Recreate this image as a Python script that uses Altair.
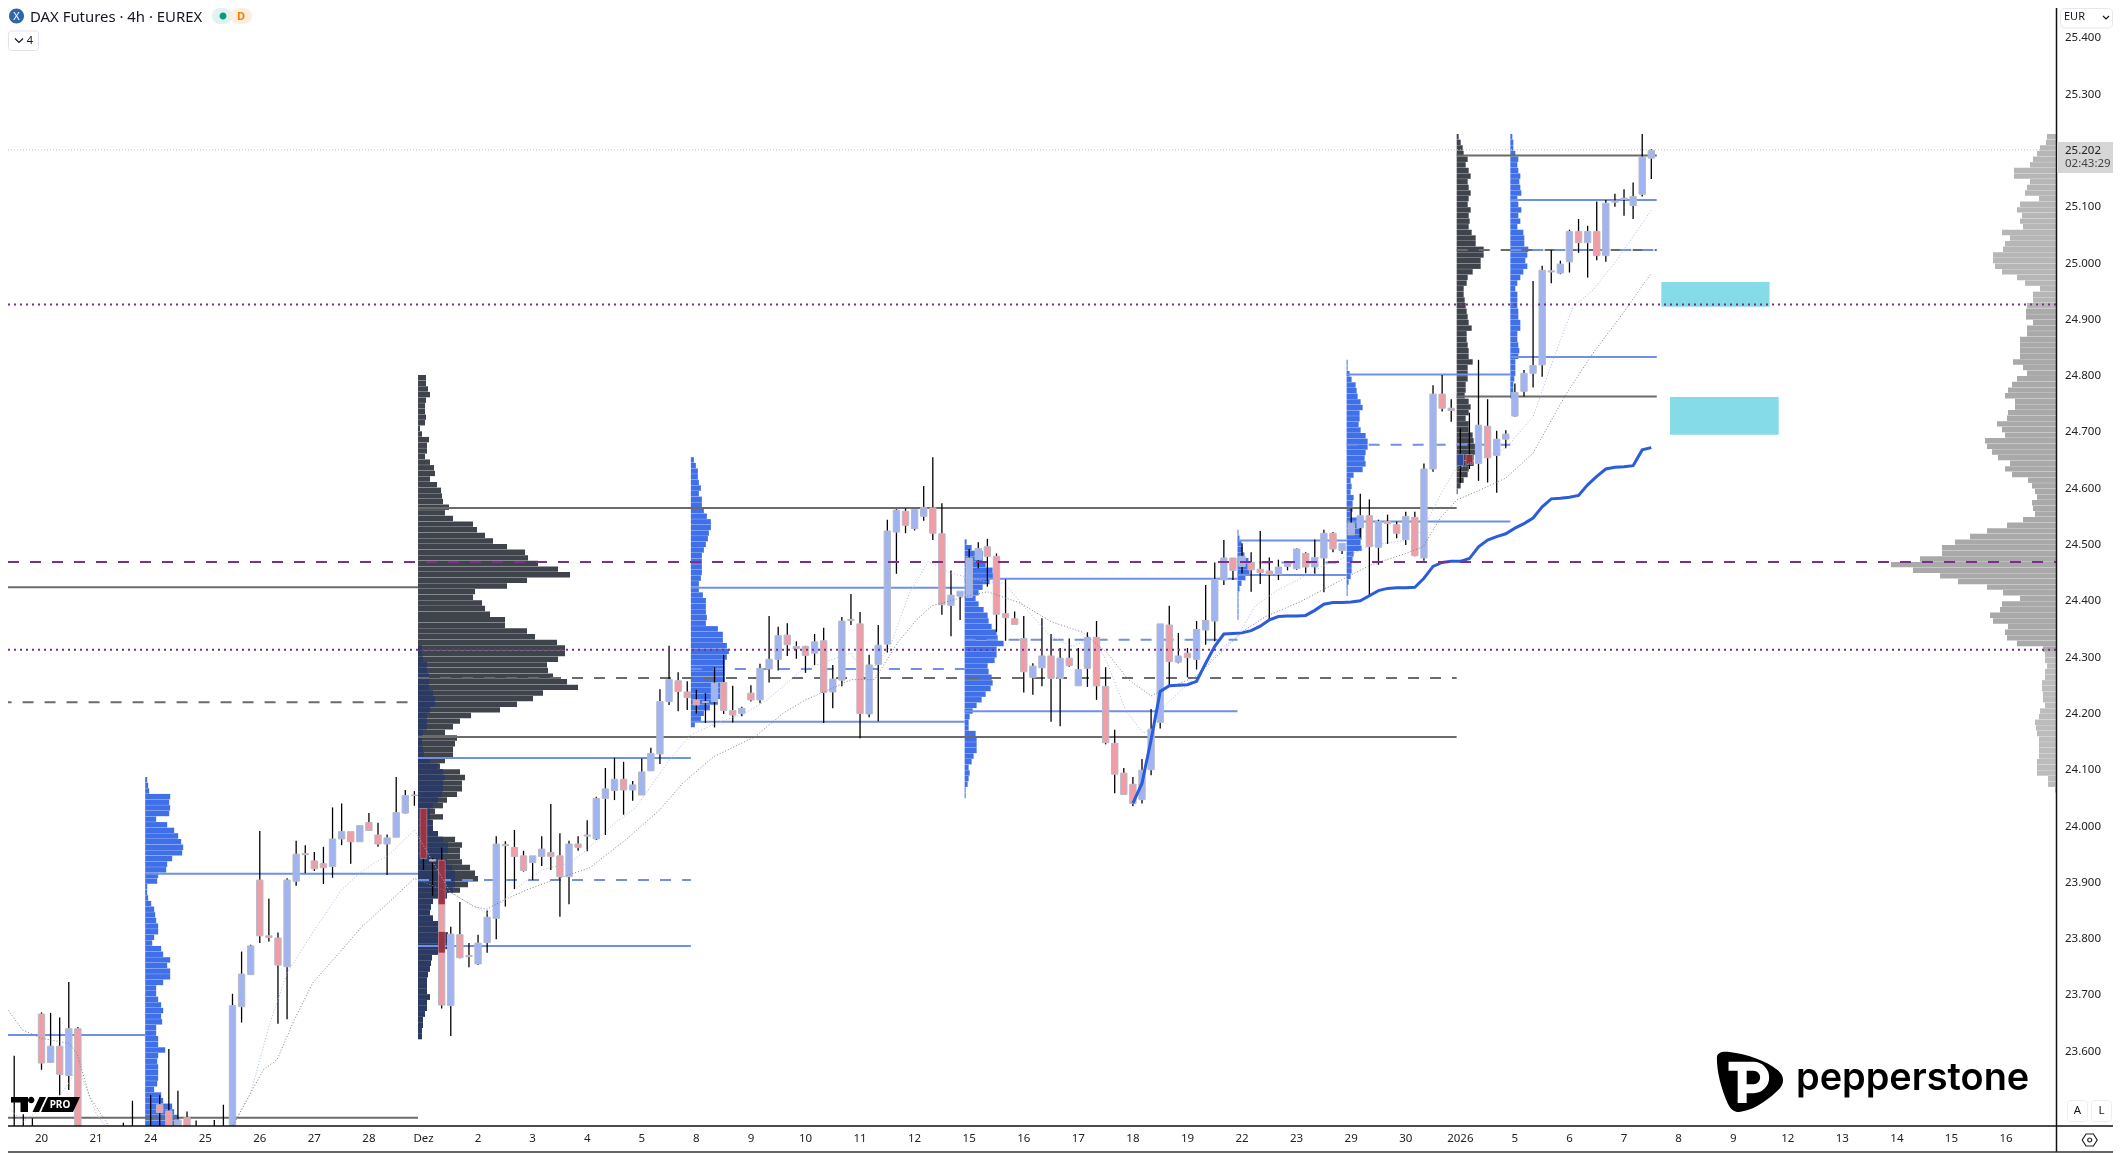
import altair as alt
import pandas as pd

# ---- candles: bar index, one day = six bars ----
first_bar = -4
opens = [23430,23430,23430,23430,23667,23581,23610,23558,23641,23430,23430,23430,23430,23430,23430,23430,23430,23506,23495,23440,23483,23430,23430,23430,23430,23440,
 23680,23737,23905,23806,23802,23751,23903,23952,23939,23934,23929,23978,23991,23973,24007,23985,23969,23981,24024,24055,24032,23941,23940,23682,23808,23771,23756,23794,23837,23968,23963,23948,23936,23947,23954,23948,23911,23969,23985,23978,24050,24064,24084,24065,24056,24099,
 24129,24222,24259,24239,24225,24222,24222,24256,24206,24201,24237,24225,24280,24297,24340,24320,24320,24308,24330,24239,24260,24368,24360,24200,24288,24324,24523,24560,24529,24551,24566,24520,24393,24409,24407,24474,24497,24480,24378,24369,24334,24265,24282,24303,24263,24299,24250,24281,24336,24249,24148,24095,24075,24048,24101,24185,24358,24292,24308,24297,24349,24365,24438,24477,24462,24469,24457,24454,24448,24462,24458,24485,24461,24477,24521,24490,24518,24531,24552,24496,24542,24536,24510,24549,24477,
 24635,24768,24743,24642,24660,24645,24711,24659,24688,24729,24773,24805,24820,24987,24983,25003,25057,25037,25057,25014,25109,25114,25103,25123,25187]
closes = [23420,23420,23420,23420,23580,23610,23560,23641,23440,23420,23420,23420,23420,23420,23420,23420,23420,23492,23440,23479,23440,23420,23420,23420,23420,23682,
 23738,23788,23806,23803,23754,23905,23951,23950,23925,23927,23978,23991,23973,24002,23993,23969,23980,24025,24055,24056,23944,23939,23683,23809,23767,23769,23793,23839,23969,23966,23947,23922,23948,23960,23947,23911,23969,23963,23983,24050,24067,24084,24065,24074,24097,24130,
 24222,24261,24240,24229,24216,24220,24255,24206,24198,24210,24225,24281,24297,24339,24323,24316,24304,24328,24238,24262,24365,24366,24201,24287,24322,24525,24562,24535,24563,24567,24521,24394,24411,24418,24477,24494,24480,24377,24371,24359,24275,24285,24303,24263,24299,24286,24279,24336,24250,24149,24093,24057,24041,24100,24173,24360,24293,24303,24300,24350,24366,24439,24477,24455,24480,24456,24451,24448,24461,24469,24493,24461,24478,24521,24493,24503,24539,24552,24497,24542,24538,24521,24551,24481,24635,
 24768,24743,24739,24661,24644,24713,24655,24688,24697,24771,24805,24819,24988,24985,24999,25057,25037,25057,25014,25107,25111,25116,25119,25189,25201]
highs = [23482,23593,23489,23482,23670,23669,23661,23724,23644,23450,23450,23450,23450,23474,23513,23450,23523,23523,23605,23531,23494,23478,23450,23479,23506,23703,
 23778,23790,23992,23872,23812,23908,23975,23967,23955,23964,24034,24041,23991,24002,24024,24007,23986,24088,24065,24063,24032,23944,23963,23822,23866,23793,23808,23851,23983,23974,23994,23957,23948,23983,24040,23988,23975,23983,24011,24053,24104,24122,24115,24081,24121,24140,
 24244,24321,24274,24258,24243,24237,24283,24305,24250,24213,24251,24289,24374,24355,24361,24329,24321,24342,24353,24287,24372,24413,24381,24305,24358,24545,24564,24565,24563,24605,24656,24574,24455,24418,24493,24505,24511,24485,24439,24382,24374,24290,24370,24342,24317,24334,24317,24345,24365,24283,24172,24104,24088,24120,24209,24360,24392,24344,24317,24365,24429,24469,24509,24477,24503,24487,24525,24478,24474,24471,24494,24487,24510,24527,24523,24503,24565,24591,24581,24545,24554,24542,24559,24559,24645,
 24784,24802,24759,24707,24735,24829,24759,24703,24704,24787,24811,24969,24996,25024,25005,25060,25079,25067,25110,25113,25124,25132,25144,25230,25203]
lows = [23400,23400,23400,23400,23568,23580,23523,23532,23400,23400,23400,23400,23400,23400,23400,23400,23400,23400,23400,23400,23400,23400,23400,23400,23400,23400,
 23652,23737,23793,23796,23650,23658,23895,23917,23921,23898,23909,23967,23934,23973,23993,23964,23914,23981,24023,24037,23923,23877,23677,23628,23766,23750,23754,23776,23800,23858,23889,23920,23905,23930,23923,23840,23862,23957,23956,23976,23985,24047,24021,24046,24056,24099,
 24111,24216,24205,24207,24201,24184,24176,24200,24185,24196,24222,24219,24256,24277,24303,24298,24273,24287,24184,24210,24249,24358,24157,24194,24187,24309,24449,24521,24526,24543,24509,24376,24338,24367,24407,24459,24426,24346,24330,24359,24238,24234,24249,24186,24178,24284,24250,24248,24225,24146,24059,24057,24036,24041,24091,24174,24249,24290,24265,24279,24323,24329,24429,24438,24450,24417,24431,24368,24438,24455,24456,24450,24449,24416,24487,24484,24518,24514,24408,24465,24502,24512,24500,24480,24472,
 24630,24737,24719,24610,24635,24614,24611,24593,24672,24728,24764,24780,24799,24965,24981,24984,25019,24975,25006,25003,25101,25085,25079,25119,25150]

# ---- moving averages and anchored line: (bar, price) ----
fast_bars = [-4,-2,2,3,4,5,6,7,10,19,21,23,25,27,30,33,35,36.5,38,41,45,49,50,52,55,58,60,63,65.3,69.3,71.4,74.3,77.3,79.8,83.6,85.7,89,90.7,93.3,95.4,97.5,100,101.5,103.7,105.9,108,111,113.4,115.7,117.2,119.2,121.1,122.6,123.4,126.9,130,131.5,133.4,135.9,138.5,140.8,143.5,145.8,147.7,150.4,151.9,153.9,155.4,157.4,161,164,166.2,168.4,170.6,173.2,177]
fast_vals = [23506,23476,23523,23544,23574,23532,23491,23468,23400,23400,23468,23526,23645,23740,23816,23888,23917,23935,23947,23994,23882,23846,23855,23888,23923,23935,23959,24006,24033,24124,24163,24184,24201,24225,24278,24290,24308,24266,24320,24414,24471,24450,24444,24435,24432,24391,24337,24320,24337,24290,24207,24166,24178,24213,24266,24320,24337,24391,24420,24441,24462,24479,24497,24503,24509,24527,24592,24633,24648,24672,24728,24829,24923,24953,25006,25095]
slow_bars = [-4.6,-2.1,0,2,3,3.9,5.3,7.4,10,19,21,24.4,25.9,27.8,29.8,32.7,35.2,37.7,41,45.5,47.5,48.9,50.9,53.4,56.8,60.2,64.2,68,70.5,73.9,78.5,81.5,84,87,89,91.6,94.1,96.2,97.9,101.7,104,107.6,111,114.5,117.2,119.5,122,123.8,126.9,129.6,132,134.6,138.5,140.8,144,146.2,150,151.9,153.9,155.6,158.2,161,164,164.8,167.7,170.6,173.9,177]
slow_vals = [23695,23639,23624,23618,23615,23597,23520,23468,23400,23400,23468,23568,23586,23657,23722,23775,23822,23858,23908,23879,23858,23853,23870,23888,23908,23926,23976,24030,24077,24124,24160,24201,24225,24246,24261,24261,24326,24367,24392,24409,24417,24397,24364,24345,24308,24261,24232,24246,24266,24308,24346,24373,24400,24420,24447,24465,24485,24497,24550,24580,24598,24619,24663,24687,24770,24841,24912,24983]
anchored_first = 120
anchored_vals = [24041,24077,24154,24240,24250,24251,24252,24258,24290,24320,24342,24343,24344,24348,24356,24367,24373,24374,24374,24375,24384,24395,24398,24398,24399,24401,24410,24419,24423,24424,24424,24425,24441,24462,24469,24471,24471,24476,24497,24509,24515,24520,24530,24538,24548,24568,24582,24583,24585,24588,24607,24622,24635,24638,24639,24641,24669,24673]

# ---- volume profiles: first row price, start bar, row volumes ----
dark_top, dark_start = 24802, 41.4
dark_vol = [8,8,10,12,8,7,7,8,7,2,4,11,9,9,7,12,16,17,12,19,23,24,25,31,27,35,55,59,67,75,89,107,110,120,140,152,109,89,57,55,64,67,72,87,87,109,117,139,147,147,140,129,130,135,149,160,125,115,99,82,
 53,42,35,27,39,37,35,35,27,22,42,47,44,44,39,29,25,17,25,15,15,20,37,44,42,42,44,52,57,60,50,42,29,15,13,12,15,20,25,30,34,30,20,14,13,12,10,9,9,9,12,9,9,7,5,5,4,4]
navy_top = 24322
navy_vol = [4,4,5,9,9,11,11,11,15,17,17,12,9,9,9,5,4,4,5,6,12,20,25,27,25,25,24,20,15,12,12,14,15,20,25,30,30,25,29,34,37,37,37,35,29,15,13,12,15,20,25,30,34,30,20,14,13,12,10,9,9,9,12,9,9,7,5,5,4,4]
prof_a_top, prof_a_start = 24088, 11.4
prof_a_vol = [2,3,4,25,24,25,24,11,22,29,33,36,38,37,27,22,21,13,12,2,2,3,6,9,10,11,13,13,9,7,16,18,25,22,25,25,18,11,11,13,16,18,16,17,11,11,13,13,20,13,12,13,13,13,12,9,16,18,27,29,33,36,38,40]
prof_b_top, prof_b_start = 24656, 71.4
prof_b_vol = [3,5,7,7,8,10,8,11,11,13,16,20,20,18,17,15,13,11,11,11,11,10,8,8,12,15,15,15,16,15,27,32,32,36,38,36,34,34,34,34,35,32,30,27,19,13,10,4]
prof_c_top, prof_c_start = 24510, 101.5
prof_c_vol = [2,7,18,18,21,28,31,25,18,14,11,14,19,23,24,27,32,33,39,32,32,30,23,24,27,28,26,21,17,12,8,5,4,4,11,12,12,12,9,7,4,5,4,3,1,1]
prof_d_top, prof_d_start = 24527, 131.5
prof_d_vol = [1,2,4,5,7,11,15,12,8,4,2,1,1,1,1,1]
prof_e_top, prof_e_start = 24829, 143.5
prof_e_vol = [1,1,3,5,9,10,11,14,16,13,13,12,14,19,21,21,19,18,19,16,7,4,5,4,7,6,6,4,14,16,15,15,14,15,7,6,5,5,4,2,1,1]
prof_f_top, prof_f_start = 25230, 155.6
prof_f_vol = [2,4,6,7,11,9,12,14,11,12,14,12,11,14,12,13,12,15,19,19,27,27,24,24,16,11,10,7,7,8,9,10,11,12,15,10,10,11,12,12,16,11,11,11,9,9,8,12,14,12,9,12,12,16,17,20,19,17,17,12,11,7,4,1]
prof_g_top, prof_g_start = 25230, 161.5
prof_g_vol = [2,3,3,5,8,7,8,10,9,10,11,7,8,11,8,10,7,13,14,14,18,17,15,17,13,10,7,5,7,7,7,8,8,10,10,7,7,8,9,8,5,5,5,4,3,3,2]
side_top = 25230
side_vol = [9,10,16,19,23,26,42,42,26,29,31,17,36,39,34,36,33,54,46,51,53,63,63,61,54,39,31,16,23,23,29,30,30,23,29,29,36,36,36,36,43,33,29,39,44,48,51,41,41,48,49,59,54,51,71,69,64,58,46,51,
 44,28,24,21,19,24,23,21,33,49,69,86,101,114,114,136,165,143,116,98,69,53,36,54,56,66,63,48,51,49,39,13,11,11,9,11,11,14,14,13,13,11,16,17,21,20,19,17,17,17,17,19,19,19,8,8,1]

# ---- levels: start bar, end bar, price ----
dark_solid = [(-4.5,41.4,24425),(-4.5,41.4,23483),(41.4,155.6,24566),(41.4,155.6,24159),(155.6,177.6,25192),(155.6,177.6,24764)]
dark_dashed = [(-4.5,41.4,24221),(41.4,155.6,24264),(155.6,177.6,25024)]
blue_solid = [(-4.5,11.4,23630),(11.4,41.4,23916),(41.4,71.4,24122),(41.4,71.4,23788),(71.4,101.5,24424),(71.4,101.5,24186),(101.5,131.5,24440),(101.5,131.5,24205),(131.5,143.5,24508),(131.5,143.5,24447),(143.5,161.5,24803),(143.5,161.5,24542),(161.5,177.6,25113),(161.5,177.6,24834)]
blue_dashed = [(41.4,71.4,23905),(71.4,101.5,24280),(101.5,131.5,24332),(131.5,143.5,24469),(143.5,161.5,24678),(161.5,177.6,25024)]
purple_dashed = [24470]
purple_dotted = [24314, 24927]
last_price = 25202
zones = [(178.1,190,24967,24923),(179.05,191,24763,24696)]

price_ticks = list(range(23600, 25401, 100))
day_bars = list(range(0, 217, 6))
day_labels = ["20","21","24","25","26","27","28","Dez","2","3","4","5","8","9","10","11","12","15","16","17","18","19","22","23","29","30","2026","5","6","7","8","9","12","13","14","15","16"]

# darkened bodies where a candle sits on the dark profile
dark_body = [(42,24032,23944,"#9a3342"),(44,23940,23862,"#9a3342"),(44,23813,23776,"#9a3342"),(156,24661,24642,"#2f4a9b"),(157,24660,24644,"#96323f")]

# ---- geometry ----
BAR = 9.095
W, H = 2048, 1118
x_lo, x_hi = -3.683, -3.683 + W / BAR
y_lo, y_hi = 23468.2, 25453.8
xs = alt.Scale(domain=[x_lo, x_hi], nice=False, zero=False)
ys = alt.Scale(domain=[y_lo, y_hi], nice=False, zero=False)
FONT = "Noto Sans"

X = lambda f: alt.X(f, type="quantitative", scale=xs, axis=None)
Y = lambda f: alt.Y(f, type="quantitative", scale=ys, axis=None)
ROW = 9.6

def rows(top, start, vols, color):
    return [dict(x0=start, x1=start + v / BAR, y0=top - 10 * k, y1=top - 10 * k - ROW, c=color) for k, v in enumerate(vols)]

def side_color(p):
    if p > 24927: return "#b6b6b6"
    if p > 24314: return "#a9a9a9"
    return "#bcbcbc"

BLUE = "#3f70ea"
prof = pd.DataFrame(
    rows(dark_top, dark_start, dark_vol, "#3f434c")
    + rows(navy_top, dark_start, navy_vol, "#2b3a62")
    + rows(prof_a_top, prof_a_start, prof_a_vol, BLUE)
    + rows(prof_b_top, prof_b_start, prof_b_vol, BLUE)
    + rows(prof_c_top, prof_c_start, prof_c_vol, BLUE)
    + rows(prof_d_top, prof_d_start, prof_d_vol, BLUE)
    + rows(prof_e_top, prof_e_start, prof_e_vol, BLUE)
    + rows(prof_f_top, prof_f_start, prof_f_vol, "#3f434c")
    + rows(prof_g_top, prof_g_start, prof_g_vol, BLUE)
)
side = pd.DataFrame([dict(x0=x_hi - v / BAR, x1=x_hi, y0=side_top - 10 * k, y1=side_top - 10 * k - ROW,
                          c=side_color(side_top - 10 * k)) for k, v in enumerate(side_vol)])

bars = pd.DataFrame({"i": [first_bar + k for k in range(len(opens))], "o": opens, "c": closes, "h": highs, "l": lows})
bars["left"] = bars.i - 0.35
bars["right"] = bars.i + 0.35
bars["top"] = bars[["o", "c"]].max(axis=1)
bars["bot"] = bars[["o", "c"]].min(axis=1)
bars["fill"] = ["#9fb4f1" if c >= o else "#f09da6" for o, c in zip(opens, closes)]

layers = []

def level_layer(items, color, dash=None, sw=2):
    df = pd.DataFrame(items, columns=["a", "b", "p"])
    kw = dict(color=color, strokeWidth=sw, clip=True)
    if dash: kw["strokeDash"] = dash
    return alt.Chart(df).mark_rule(**kw).encode(x=X("a"), x2="b", y=Y("p"))

zone_df = pd.DataFrame(zones, columns=["a", "b", "t", "d"])
layers.append(alt.Chart(zone_df).mark_rect(color="#86dbe8", clip=True).encode(x=X("a"), x2="b", y=Y("t"), y2="d"))

layers.append(alt.Chart(side).mark_rect(clip=True).encode(x=X("x0"), x2="x1", y=Y("y0"), y2="y1", color=alt.Color("c:N", scale=None)))
layers.append(alt.Chart(prof).mark_rect(clip=True).encode(x=X("x0"), x2="x1", y=Y("y0"), y2="y1", color=alt.Color("c:N", scale=None)))

# level lines
layers.append(level_layer(dark_solid, "#6b6b6b"))
layers.append(level_layer(dark_dashed, "#6b6b6b", [11, 11]))
layers.append(level_layer(blue_solid, "#6f90e4"))
layers.append(level_layer(blue_dashed, "#6f90e4", [11, 11]))

# candles
layers.append(alt.Chart(bars).mark_rule(color="#000", strokeWidth=1.3, clip=True).encode(x=X("i"), y=Y("h"), y2="top"))
layers.append(alt.Chart(bars).mark_rule(color="#000", strokeWidth=1.3, clip=True).encode(x=X("i"), y=Y("bot"), y2="l"))
layers.append(alt.Chart(bars).mark_rect(clip=True, stroke="#b7b9c6", strokeWidth=1, blend="multiply").encode(
    x=X("left"), x2="right", y=Y("top"), y2="bot", color=alt.Color("fill:N", scale=None)))
dbody = pd.DataFrame(dark_body, columns=["i", "t", "b", "f"])
dbody["left"] = dbody.i - 0.35
dbody["right"] = dbody.i + 0.35
layers.append(alt.Chart(dbody).mark_rect(clip=True).encode(x=X("left"), x2="right", y=Y("t"), y2="b", color=alt.Color("f:N", scale=None)))

# averages
fast = pd.DataFrame({"i": fast_bars, "p": fast_vals})
slow = pd.DataFrame({"i": slow_bars, "p": slow_vals})
anch = pd.DataFrame({"i": [anchored_first + k for k in range(len(anchored_vals))], "p": anchored_vals})
layers.append(alt.Chart(fast).mark_line(color="#a9baf0", strokeWidth=1, strokeDash=[1, 2], clip=True).encode(x=X("i"), y=Y("p")))
layers.append(alt.Chart(slow).mark_line(color="#808080", strokeWidth=1, strokeDash=[1, 2], clip=True).encode(x=X("i"), y=Y("p")))
layers.append(alt.Chart(anch).mark_line(color="#2b5cdc", strokeWidth=3, clip=True).encode(x=X("i"), y=Y("p")))

# full-width levels
full = lambda vals: pd.DataFrame({"p": vals, "a": [x_lo] * len(vals), "b": [x_hi] * len(vals)})
layers.append(alt.Chart(full(purple_dashed)).mark_rule(color="#7b2f88", strokeWidth=2, strokeDash=[11, 11], clip=True).encode(x=X("a"), x2="b", y=Y("p")))
layers.append(alt.Chart(full(purple_dotted)).mark_rule(color="#7b2f88", strokeWidth=2, strokeDash=[2, 4], clip=True).encode(x=X("a"), x2="b", y=Y("p")))
layers.append(alt.Chart(full([last_price])).mark_rule(color="#c4c4c4", strokeWidth=1, strokeDash=[1, 2], clip=True).encode(x=X("a"), x2="b", y=Y("p")))

# day labels through the x scale
ticks = pd.DataFrame({"i": day_bars, "t": day_labels})
layers.append(alt.Chart(ticks).mark_text(font=FONT, fontSize=11.5, color="#222", baseline="middle", align="center").encode(
    x=X("i"), y=alt.value(1139 - 8), text="t:N"))

# price labels through the y scale
plabels = pd.DataFrame({"p": price_ticks, "t": [f"{v // 1000}.{v % 1000:03d}" for v in price_ticks]})
layers.append(alt.Chart(plabels).mark_text(font=FONT, fontSize=11.5, color="#222", baseline="middle", align="left").encode(
    x=alt.value(2065 - 8), y=Y("p"), text="t:N"))

# ---- chrome, in page pixels ----
one = alt.Data(values=[{"t": 1}])

def text(s, x, y, size=11.5, color="#222", align="left", weight="normal", font=FONT):
    return alt.Chart(alt.Data(values=[{"t": s}])).mark_text(font=font, fontSize=size, color=color, align=align,
        baseline="middle", fontWeight=weight).encode(text="t:N", x=alt.value(x - 8), y=alt.value(y - 8))

def box(x0, x1, y0, y1, fill="#ffffff", stroke=None, r=0):
    kw = dict(fill=fill, cornerRadius=r)
    if stroke: kw.update(stroke=stroke, strokeWidth=1)
    return alt.Chart(one).mark_rect(**kw).encode(x=alt.value(x0 - 8), x2=alt.value(x1 - 8), y=alt.value(y0 - 8), y2=alt.value(y1 - 8))

def glyph(path, x, y, fill=None, stroke=None, sw=1, scale=1):
    kw = dict(shape=path, size=4 * scale * scale, opacity=1)
    if fill:
        kw.update(filled=True, fill=fill, strokeWidth=0)
    else:
        kw.update(filled=False, stroke=stroke, strokeWidth=sw)
    return alt.Chart(one).mark_point(**kw).encode(x=alt.value(x - 8), y=alt.value(y - 8))

# header
layers += [
    glyph("M-7.5 0 a7.5 7.5 0 1 0 15 0 a7.5 7.5 0 1 0 -15 0 Z", 16.5, 16, fill="#2f65ad"),
    text("X", 16.5, 16.5, size=11, color="#ffffff", align="center"),
    text("DAX Futures · 4h · EUREX", 30, 18, size=14.9, color="#131722"),
    box(212, 232, 8, 24, fill="#dff3ef", r=8),
    box(230, 252, 8, 24, fill="#fdefdc", r=8),
    glyph("M-3.5 0 a3.5 3.5 0 1 0 7 0 a3.5 3.5 0 1 0 -7 0 Z", 223, 16, fill="#089981"),
    text("D", 241, 16.5, size=11, color="#f57c00", align="center", weight="bold"),
    box(8.5, 38.5, 31, 50.5, fill="#ffffff", stroke="#e0e3eb", r=3),
    glyph("M-4 -2 L0 2 L4 -2", 19, 40.5, stroke="#131722", sw=1.2),
    text("4", 30, 40.5, size=11, color="#131722", align="center"),
]
# axis lines
layers += [
    alt.Chart(one).mark_rule(color="#111", strokeWidth=1.5).encode(x=alt.value(2056.5 - 8), y=alt.value(0), y2=alt.value(1152 - 8)),
    alt.Chart(one).mark_rule(color="#111", strokeWidth=1.5).encode(x=alt.value(0), x2=alt.value(2121 - 8), y=alt.value(1126 - 8)),
]
# price scale furniture
layers += [
    box(2060.5, 2112.5, 8.5, 28, fill="#ffffff", stroke="#e6e8ee", r=4),
    text("EUR", 2064, 17, size=11, color="#131722"),
    glyph("M-3 -1.5 L0 1.5 L3 -1.5", 2106, 17.5, stroke="#131722", sw=1.2),
    box(2057, 2113, 142, 173, fill="#d6d6d6"),
    text("25.202", 2065, 151, size=11.5, color="#222"),
    text("02:43:29", 2065, 164, size=11.5, color="#444"),
    box(2067.5, 2087.5, 1100.5, 1121.5, fill="#ffffff", stroke="#eceef2", r=3),
    box(2091.5, 2111.5, 1100.5, 1121.5, fill="#ffffff", stroke="#eceef2", r=3),
    text("A", 2077.5, 1111, size=11.5, color="#131722", align="center"),
    text("L", 2101.5, 1111, size=11.5, color="#131722", align="center"),
    glyph("M-7.5 0 L-3.7 -6 H3.7 L7.5 0 L3.7 6 H-3.7 Z", 2089.7, 1140, stroke="#222", sw=1.2),
    glyph("M-2 0 a2 2 0 1 0 4 0 a2 2 0 1 0 -4 0 Z", 2089.7, 1140, stroke="#222", sw=1.2),
]
# logos
TV_MARK = "M-34 -7.5 H-17 V7.5 H-24.5 V-2 H-34 Z M-17 -4.5 a3.2 3.2 0 1 0 6.4 0 a3.2 3.2 0 1 0 -6.4 0 Z M-5.5 -7.5 H1 L-6 7.5 H-12.5 Z M3 -7.5 H35 L28 7.5 H-4 Z"
PEP_BLOB = "M-0.98 -0.72 C-0.98 -0.9 -0.8 -0.93 -0.6 -0.9 C-0.1 -0.84 0.5 -0.65 0.85 -0.35 C1.05 -0.2 1.05 0.05 0.9 0.2 C0.6 0.5 0.2 0.8 -0.2 0.88 C-0.4 0.95 -0.55 0.85 -0.65 0.65 C-0.85 0.2 -0.98 -0.3 -0.98 -0.72 Z"
PEP_P = "M-0.63 -0.47 H0.12 A0.33 0.33 0 0 1 0.12 0.2 H-0.22 M-0.22 -0.47 V0.63"
layers += [
    glyph(TV_MARK, 45, 1104.5, fill="#000000"),
    text("PRO", 60, 1105, size=10, color="#ffffff", align="center", weight="bold"),
    glyph(PEP_BLOB, 1749.5, 1082, fill="#000000", scale=33.3),
    glyph(PEP_P, 1749.5, 1082, stroke="#ffffff", sw=9, scale=33.3),
    text("pepperstone", 1796, 1079, size=37.9, color="#000000", weight=600, font="Inter"),
    alt.Chart(one).mark_rule(color="#333", strokeWidth=1.5).encode(x=alt.value(0), x2=alt.value(2120 - 8), y=alt.value(1152 - 8)),
]

chart = alt.layer(*layers).properties(
    width=W, height=H,
    padding={"left": 0, "top": 0, "right": 57, "bottom": 27},
    autosize=alt.AutoSizeParams(type="none"),
    background="#ffffff",
).configure_view(stroke=None)

chart.save("out.html", embed_options={"renderer": "svg", "actions": False})
